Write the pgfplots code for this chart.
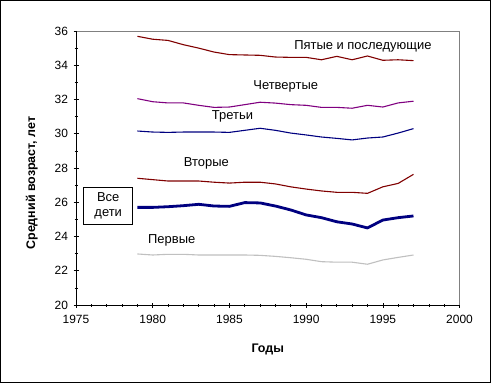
\documentclass[border=0pt]{standalone}
\usepackage{fontspec}
\setmainfont{Liberation Sans}
\usepackage{pgfplots}
\usepackage{pgfplotstable}
\pgfplotsset{compat=1.18}
\definecolor{dred}{HTML}{800000}
\definecolor{dpurple}{HTML}{800080}
\definecolor{dnavy}{HTML}{000080}
\definecolor{lgray}{HTML}{C0C0C0}
\pgfplotstableread{
year fifth fourth third second all first
1979 35.69 32.05 30.16 27.40 25.70 22.98
1980 35.52 31.87 30.10 27.32 25.70 22.92
1981 35.45 31.80 30.08 27.24 25.74 22.96
1982 35.20 31.80 30.10 27.24 25.80 22.96
1983 35.00 31.66 30.10 27.24 25.88 22.92
1984 34.77 31.54 30.10 27.17 25.78 22.92
1985 34.62 31.56 30.08 27.12 25.76 22.92
1986 34.60 31.70 30.20 27.17 25.98 22.92
1987 34.58 31.84 30.32 27.17 25.96 22.90
1988 34.48 31.79 30.20 27.07 25.78 22.84
1989 34.46 31.70 30.04 26.90 25.55 22.76
1990 34.46 31.66 29.93 26.77 25.26 22.67
1991 34.32 31.54 29.81 26.66 25.10 22.53
1992 34.52 31.54 29.73 26.58 24.86 22.50
1993 34.32 31.49 29.64 26.58 24.73 22.50
1994 34.54 31.66 29.75 26.52 24.50 22.38
1995 34.29 31.56 29.81 26.90 24.96 22.63
1996 34.32 31.80 30.04 27.10 25.10 22.78
1997 34.27 31.90 30.30 27.63 25.20 22.92
}\datatable
\begin{document}
\begin{tikzpicture}[x=1bp,y=1bp]
\path[use as bounding box] (0,0) rectangle (492,384);
\fill[white] (0,0) rectangle (492,384);
\draw[line width=1bp] (0.5,1.5) rectangle (490.5,383.5);
\begin{axis}[
  at={(76bp,79bp)}, anchor=south west, scale only axis,
  width=383.5bp, height=274bp,
  xmin=1975, xmax=2000, ymin=20, ymax=36,
  xtick={1975,1980,...,2000}, ytick={20,22,...,36},
  minor x tick num=4, minor y tick num=1,
  tick align=center, xtick pos=bottom, ytick pos=left,
  major tick length=5bp, minor tick length=3bp,
  tick style={black, line width=0.6bp},
  axis line style={gray, line width=0.8bp},
  /pgf/number format/assume math mode=true,
  /pgf/number format/1000 sep={},
  ticklabel style={font=\fontsize{12}{14}\selectfont},
  xticklabel style={yshift=-4bp},
  yticklabel style={xshift=-2bp},
  xlabel={Годы}, ylabel={Средний возраст, лет},
  xlabel style={font=\fontsize{12.5}{14}\selectfont\bfseries, at={(axis description cs:0.5,-0.164)}, anchor=center},
  ylabel style={font=\fontsize{12.5}{14}\selectfont\bfseries, at={(axis description cs:-0.115,0.445)}, anchor=center},
  clip=false,
  every axis plot/.append style={line join=round},
]
\draw[black, line width=0.8bp] (rel axis cs:0,1) -- (rel axis cs:0,0) -- (rel axis cs:1,0);
\addplot[dred, line width=1.1bp] table[x=year,y=fifth] {\datatable};
\addplot[dpurple, line width=1.1bp] table[x=year,y=fourth] {\datatable};
\addplot[dnavy, line width=1.1bp] table[x=year,y=third] {\datatable};
\addplot[dred, line width=1.1bp] table[x=year,y=second] {\datatable};
\addplot[lgray, line width=1.1bp] table[x=year,y=first] {\datatable};
\addplot[dnavy, line width=2.8bp] table[x=year,y=all] {\datatable};
\begin{scope}[every node/.style={font=\fontsize{13}{15}\selectfont}]
\node at (axis cs:1993.7,35.08) {Пятые и последующие};
\node at (axis cs:1988.67,32.75) {Четвертые};
\node at (axis cs:1985.2,30.99) {Третьи};
\node at (axis cs:1983.5,28.27) {Вторые};
\node at (axis cs:1981.24,23.75) {Первые};
\node[draw=black, line width=0.8bp, fill=white, align=center, minimum width=49bp, minimum height=37bp, inner sep=1bp] at (axis cs:1977.1,25.81) {Все\\дети};
\end{scope}
\end{axis}
\end{tikzpicture}
\end{document}
